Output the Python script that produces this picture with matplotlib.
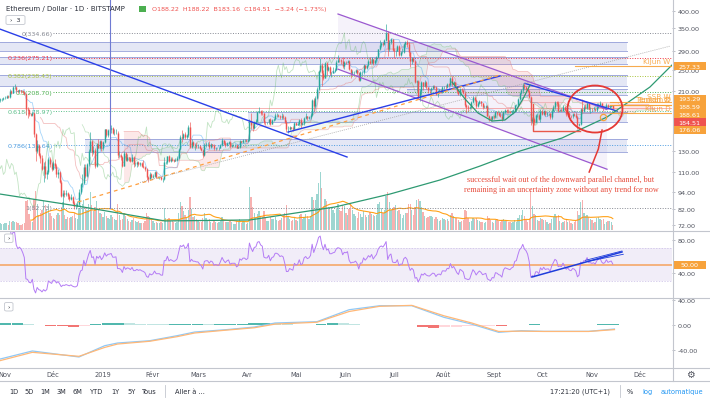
import matplotlib
matplotlib.use("Agg")
import matplotlib.pyplot as plt
import matplotlib.transforms as mtransforms
from matplotlib.lines import Line2D
from matplotlib.patches import Ellipse, FancyBboxPatch, Rectangle
from matplotlib.ticker import FixedLocator, FuncFormatter, NullLocator
import numpy as np
import pandas as pd

W, H = 710, 402

# daily candles, 2018-10-29 .. 2019-11-14 ; day 0 = 2018-11-01
FIRST_DAY = -3
FIRST_OPEN = 196
CLOSES = [
    197, 198, 199,
    200, 202, 201, 211, 208, 218, 218, 212, 210, 212, 211, 209, 206, 182, 181, 175, 174, 177, 149, 130,
    137, 126, 123, 113, 116, 108, 110, 122, 117, 113,
    118, 116, 108, 110, 102, 91, 93, 92, 93, 91, 89, 90, 86, 84, 84, 85, 94, 100, 101, 115,
    107, 117, 130, 141, 129, 131, 116, 138, 134, 141, 133,
    140, 155, 148, 154, 155, 157, 150, 150, 151, 126, 126, 124, 116, 128, 121, 124, 123, 120, 124, 117,
    117, 119, 117, 118, 116, 115, 113, 106, 104, 108, 106,
    107, 110, 106, 106, 106, 104, 104, 119, 119, 125, 120, 122, 121, 120, 121, 123, 132, 146, 145, 149,
    146, 148, 158, 135, 140, 137, 137, 136,
    136, 133, 131, 126, 137, 138, 138, 135, 138, 137, 133, 134, 133, 133, 137, 142, 139, 137, 139, 140,
    136, 137, 137, 137, 134, 135, 141, 140, 142, 142, 141,
    142, 164, 160, 157, 165, 166, 178, 180, 177, 176, 165, 164, 164, 168, 162, 167, 168, 174, 174, 173,
    171, 172, 171, 165, 155, 155, 158, 157, 156, 163,
    161, 162, 167, 162, 163, 170, 172, 170, 171, 174, 196, 187, 199, 215, 248, 259, 244, 234, 264, 250,
    256, 244, 244, 248, 250, 265, 271, 270, 268, 257, 266,
    265, 269, 251, 244, 246, 246, 249, 244, 231, 245, 245, 259, 254, 259, 267, 264, 272, 263, 270, 276,
    294, 305, 310, 308, 318, 336, 294, 312, 319, 293,
    291, 291, 302, 282, 287, 287, 307, 313, 307, 287, 268, 275, 268, 227, 229, 200, 210, 226, 220, 226,
    217, 213, 212, 216, 220, 218, 206, 211, 212, 209, 218,
    218, 217, 223, 222, 233, 223, 226, 219, 210, 205, 215, 212, 208, 188, 186, 184, 185, 193, 201, 196,
    187, 191, 194, 191, 185, 186, 187, 173, 170, 168, 172,
    171, 178, 177, 174, 173, 169, 178, 181, 180, 179, 178, 180, 181, 188, 189, 198, 208, 212, 222, 217,
    215, 211, 201, 166, 169, 165, 174, 174, 169, 180,
    175, 180, 175, 176, 176, 171, 180, 186, 193, 191, 180, 181, 180, 186, 181, 175, 177, 173, 172, 175,
    174, 171, 160, 162, 182, 180, 185, 184, 191, 183, 183,
    182, 183, 181, 186, 189, 191, 186, 184, 185, 189, 186, 187, 187.75, 184.51,
]
HIGHS = [
    199, 200, 201,
    203, 204, 204, 214, 212, 220, 223, 219, 213, 214, 213, 213, 210, 207, 185, 182, 177, 180, 178, 150,
    142, 138, 128, 126, 119, 120, 112, 124, 124, 119,
    120, 122, 117, 113, 111, 103, 95, 95, 95, 94, 92, 92, 91, 87, 86, 87, 96, 101, 108, 117,
    117, 118, 132, 152, 142, 136, 133, 139, 144, 142, 142,
    141, 156, 156, 156, 160, 160, 158, 156, 155, 153, 130, 127, 125, 130, 129, 127, 124, 124, 127, 125,
    119, 120, 120, 119, 119, 121, 116, 114, 107, 110, 109,
    108, 111, 111, 107, 107, 107, 105, 124, 120, 125, 126, 124, 124, 122, 123, 125, 134, 148, 154, 151,
    152, 149, 160, 165, 143, 141, 139, 140,
    138, 137, 134, 132, 139, 140, 140, 141, 139, 138, 138, 135, 134, 135, 138, 145, 142, 141, 140, 141,
    141, 138, 138, 138, 138, 136, 142, 141, 144, 143, 143,
    143, 168, 176, 163, 166, 169, 180, 185, 181, 181, 177, 166, 165, 169, 170, 168, 170, 176, 176, 175,
    174, 176, 175, 172, 167, 159, 159, 158, 159, 164,
    164, 164, 169, 170, 164, 171, 176, 173, 173, 177, 197, 200, 202, 218, 250, 275, 263, 250, 266, 265,
    258, 258, 246, 256, 254, 270, 282, 275, 272, 277, 268,
    268, 271, 271, 252, 250, 248, 252, 251, 246, 247, 247, 261, 260, 260, 270, 277, 276, 273, 271, 278,
    296, 318, 313, 312, 320, 361, 340, 316, 323, 320,
    297, 293, 304, 304, 291, 297, 309, 314, 316, 312, 288, 277, 277, 270, 230, 230, 215, 228, 227, 230,
    228, 218, 215, 217, 222, 221, 219, 213, 214, 214, 219,
    220, 221, 224, 224, 235, 238, 228, 227, 220, 212, 216, 216, 213, 209, 190, 188, 187, 195, 203, 201,
    197, 193, 196, 195, 192, 189, 188, 189, 174, 172, 173,
    174, 180, 180, 178, 176, 176, 180, 183, 182, 182, 180, 181, 182, 189, 190, 199, 209, 214, 224, 224,
    219, 216, 212, 202, 171, 170, 175, 176, 175, 182,
    183, 181, 181, 178, 177, 177, 182, 188, 194, 194, 194, 183, 184, 188, 187, 182, 179, 178, 174, 176,
    177, 176, 172, 163, 184, 197, 188, 190, 193, 192, 185,
    184, 185, 184, 192, 191, 194, 192, 187, 186, 191, 190, 188, 189, 188.22,
]
LOWS = [
    193, 195, 196,
    197, 199, 199, 200, 206, 207, 215, 209, 207, 209, 208, 207, 204, 174, 170, 173, 172, 173, 146, 120,
    128, 125, 118, 112, 102, 105, 104, 108, 115, 111,
    112, 114, 106, 105, 101, 90, 83, 90, 91, 89, 87, 88, 85, 82, 82, 83, 84, 92, 98, 100,
    105, 106, 116, 129, 125, 127, 114, 115, 133, 132, 130,
    131, 139, 146, 146, 153, 151, 149, 148, 149, 123, 124, 121, 115, 116, 120, 120, 120, 119, 119, 115,
    116, 115, 116, 116, 115, 114, 111, 103, 102, 104, 105,
    105, 106, 105, 105, 104, 103, 102, 103, 117, 117, 119, 119, 120, 119, 120, 120, 122, 131, 140, 143,
    144, 144, 146, 133, 133, 136, 131, 134,
    134, 132, 130, 124, 125, 135, 136, 132, 134, 135, 131, 131, 132, 131, 133, 136, 137, 135, 136, 138,
    134, 135, 136, 135, 133, 133, 134, 139, 139, 140, 140,
    140, 141, 156, 153, 156, 162, 165, 176, 174, 174, 162, 160, 162, 162, 160, 162, 166, 167, 171, 171,
    168, 169, 169, 163, 152, 151, 154, 155, 153, 155,
    160, 160, 161, 157, 160, 161, 168, 167, 169, 169, 173, 180, 184, 197, 213, 245, 220, 231, 233, 240,
    248, 240, 236, 243, 246, 249, 265, 265, 262, 253, 252,
    261, 264, 249, 234, 240, 239, 244, 242, 229, 229, 240, 241, 251, 252, 257, 261, 263, 260, 262, 266,
    275, 292, 300, 303, 305, 315, 280, 290, 308, 290,
    275, 280, 290, 280, 280, 285, 286, 301, 300, 280, 256, 262, 265, 225, 211, 198, 195, 206, 213, 218,
    214, 207, 208, 205, 214, 214, 204, 201, 208, 207, 208,
    214, 215, 216, 218, 221, 220, 219, 217, 208, 204, 203, 209, 206, 185, 177, 180, 182, 184, 192, 194,
    184, 185, 190, 187, 183, 184, 184, 172, 166, 166, 167,
    169, 170, 174, 172, 171, 166, 168, 177, 176, 177, 176, 177, 178, 180, 187, 187, 196, 205, 207, 215,
    213, 209, 200, 160, 163, 160, 163, 171, 167, 165,
    174, 174, 172, 173, 174, 168, 169, 179, 182, 187, 178, 179, 179, 179, 179, 173, 174, 170, 170, 170,
    172, 170, 155, 159, 160, 176, 178, 182, 183, 181, 177,
    179, 181, 180, 180, 184, 187, 184, 179, 183, 183, 183, 184, 185, 183.16,
]
VOLUMES = [  # thousand ETH
    70, 60, 65,
    70, 75, 55, 90, 80, 95, 85, 80, 70, 50, 55, 65, 70, 290, 300, 160, 90, 80, 310, 390,
    260, 150, 170, 200, 290, 250, 210, 260, 170, 140,
    120, 110, 150, 170, 150, 230, 280, 150, 110, 130, 120, 130, 140, 170, 120, 110, 220, 250, 260, 300,
    220, 200, 260, 380, 250, 190, 230, 290, 210, 170, 160,
    130, 180, 140, 120, 110, 150, 130, 110, 100, 260, 150, 100, 110, 170, 140, 110, 90, 80, 100, 120,
    90, 80, 90, 70, 70, 70, 90, 170, 140, 130, 100,
    90, 70, 80, 70, 70, 80, 70, 220, 120, 110, 120, 90, 90, 80, 70, 80, 170, 280, 240, 190,
    150, 120, 200, 330, 210, 130, 140, 110,
    90, 80, 80, 120, 170, 120, 100, 110, 80, 70, 90, 80, 70, 80, 90, 130, 90, 80, 80, 80,
    100, 80, 60, 60, 90, 80, 110, 70, 90, 80, 60,
    70, 430, 330, 230, 170, 120, 160, 190, 140, 130, 190, 130, 90, 90, 130, 110, 110, 130, 100, 90,
    100, 120, 150, 170, 250, 140, 110, 90, 100, 120,
    100, 90, 150, 160, 110, 130, 160, 140, 110, 140, 330, 300, 300, 360, 470, 580, 420, 240, 310, 290,
    230, 220, 220, 200, 170, 210, 260, 200, 190, 250, 240,
    170, 150, 210, 260, 200, 160, 140, 120, 180, 160, 130, 190, 150, 130, 150, 180, 160, 150, 140, 150,
    260, 280, 220, 170, 200, 340, 380, 280, 200, 210,
    230, 250, 190, 200, 160, 120, 150, 170, 170, 260, 260, 200, 150, 230, 300, 310, 290, 230, 180, 140,
    120, 130, 140, 140, 130, 110, 130, 110, 90, 100, 120,
    110, 100, 110, 90, 150, 170, 140, 120, 120, 100, 80, 90, 100, 200, 190, 120, 80, 90, 120, 110,
    120, 100, 90, 80, 80, 70, 80, 140, 120, 100, 80,
    70, 100, 110, 90, 80, 100, 110, 90, 90, 80, 80, 70, 80, 100, 80, 120, 150, 150, 200, 140,
    100, 80, 110, 410, 240, 160, 150, 100, 90, 120,
    110, 100, 100, 80, 60, 70, 110, 130, 160, 140, 150, 90, 70, 80, 90, 110, 80, 90, 70, 60,
    80, 90, 190, 150, 280, 300, 170, 140, 150, 130, 110,
    100, 70, 80, 120, 130, 110, 100, 110, 60, 80, 90, 90, 80, 50,
]

MONTH_DAYS = [0, 30, 61, 92, 120, 151, 181, 212, 242, 273, 304, 334, 365, 395]
MONTH_LABELS = ["Nov", "Déc", "2019", "Févr", "Mars", "Avr", "Mai", "Juin", "Juil", "Août", "Sept", "Oct", "Nov", "Déc"]
PRICE_TICKS = [72, 82, 94, 110, 130, 210, 250, 290, 350, 400]

FIB_RATIOS = ["0", "0.236", "0.382", "0.5", "0.618", "0.786", "1"]
FIB_LEVELS = [334.66, 275.21, 238.43, 208.70, 178.97, 136.64, 82.73]
FIB_COLORS = ["#868993", "#f23645", "#a8c23a", "#4caf50", "#5cbf8a", "#4b9be0", "#868993"]
FIB_START = 30

# (start day, end day, low, high)
ZONES = [
    (-3.1, 387, 291.0, 311.3),
    (-3.1, 387, 262.6, 275.8),
    (-3.1, 387, 220.2, 239.6),
    (250, 387, 204.1, 214.1),
    (151, 387, 164.4, 178.1),
    (50, 387, 129.2, 142.9),
]

BLUE_LINES = [
    [(-3.1, 346.0), (212.7, 124.2)],
    [(176.0, 151.7), (307.8, 237.6)],
    [(323.4, 223.9), (380.6, 179.5)],
]
CHANNEL_UPPER = [(207.1, 390.5), (374.4, 181.7)]
CHANNEL_LOWER = [(207.1, 251.0), (374.4, 112.6)]
ORANGE_DASHED = [(45.4, 86.6), (307.8, 239.6)]
GRAY_DOTTED = [(84.0, 101.3), (413.6, 302.0)]
ARC_DAYS = [-3.1, 44.8, 99.5, 152.4, 205.2, 239.4, 270.5, 295.4, 320.3, 346.4, 374.4, 401.1, 414.8]
ARC_PRICES = [92.3, 83.9, 74.4, 75.0, 83.2, 92.3, 103.3, 115.5, 130.3, 144.6, 171.1, 217.6, 259.5]
CUP_DAYS = [278.0, 286.1, 294.2, 302.9, 310.9, 317.2, 322.1, 326.5]
CUP_PRICES = [226.4, 197.6, 176.6, 165.7, 167.0, 178.1, 197.6, 221.1]
RED_PATH_DAYS = [328.4, 328.4, 357.6]
RED_PATH_PRICES = [190.0, 153.0, 153.0]
CIRCLE_CENTER = (366.9, 182.4)
POINTER_DAYS = [371.3, 369.0, 363.3]
POINTER_PRICES = [154.1, 132.4, 110.1]
MARK_POINT = (371.9, 171.1)
VLINE_DAY = 65.3
NOTE = ("successful wait out of the downward parallel channel, but\n"
        "remaining in an uncertainty zone without any trend for now")
NOTE_POS = (345.8, 100.0)

IND_LABELS = ["Kijun W", "SSB W", "Tenkan W", "Tenkan D", "Kijun D"]
IND_LEVELS = [257.33, 193.29, 188.59, 188.61, 176.06]
IND_START = [354.5, 376, 376, 376, 376]
LAST_PRICE = 184.51

RSI_TRENDS = [[(327.7, 35.2), (383.7, 65.5)], [(361.0, 55.4), (383.7, 66.7)], [(362.6, 54.2), (384.5, 62.7)]]

MACD_DAYS = [-3, 17, 46, 62, 70, 90, 107, 118, 137, 155, 168, 194, 214, 233, 253, 273, 290, 307, 321, 335, 363, 379]
MACD_LINE = [-55.4, -42.3, -52.1, -33.7, -29.3, -25.6, -17.4, -11.4, -7.7, -3.3, 3.3, 5.4, 24.9, 31.4,
             31.4, 12.5, 1.6, -11.9, -9.3, -10.3, -10.3, -6.5]
MACD_SIGNAL = [-58.0, -44.5, -51.0, -36.5, -31.0, -26.5, -19.0, -13.0, -8.5, -4.5, 1.5, 4.5, 22.0, 30.5,
               32.0, 15.0, 3.5, -10.5, -10.0, -10.5, -10.5, -7.5]
MACD_HIST = [2.5, 3, 2, 0.5, -1, -2, -2.5, -1.5, 1.5, 3, 4, 3, 2, 1.5, 1, 1, 1, 1.5, 1, 1.5,
             1.5, 1.5, 2.5, 3, 2.5, 1.5, 0.5, 0.3, 2, 3, 2.5, 1.5, 0.5, 0.3, 0.3, 0, 0, -4, -5, -3,
             -2.5, -2, -1.5, -1, -1, -0.5, 0.5, 1, -0.5, 0, 0, 0, 0.5, 1, 1]

UP, DOWN = "#26a69a", "#ef5350"
ORANGE = "#f7a23b"
XLIM = (-3.11, 414.8)

closes = np.array(CLOSES, float)
highs = np.array(HIGHS, float)
lows = np.array(LOWS, float)
opens = np.r_[FIRST_OPEN, closes[:-1]]
days = np.arange(len(closes)) + FIRST_DAY
cols = np.where(closes >= opens, UP, DOWN)

fig = plt.figure(figsize=(W / 100, H / 100), dpi=100)
fig.patch.set_facecolor("white")


def rect(top, bottom, left=0, right=672):
    return [left / W, 1 - bottom / H, (right - left) / W, (bottom - top) / H]


def style(a, fmt):
    for s in a.spines.values():
        s.set_visible(False)
    a.set_xlim(*XLIM)
    a.xaxis.set_major_locator(NullLocator())
    a.yaxis.tick_right()
    a.yaxis.set_minor_locator(NullLocator())
    a.yaxis.set_major_formatter(FuncFormatter(fmt))
    a.tick_params(axis="y", which="both", length=2.5, width=0.6, color="#b2b5be",
                  labelsize=4.6, labelcolor="#50535e", pad=1.5)


ax_vol = fig.add_axes(rect(0, 231))
ax = fig.add_axes(rect(0, 231))
ax_rsi = fig.add_axes(rect(232, 298))
ax_macd = fig.add_axes(rect(299, 368))
ax.patch.set_visible(False)

# volume
ax_vol.bar(days, VOLUMES, width=0.8, color=cols, alpha=0.45, lw=0)
ax_vol.plot(days, pd.Series(VOLUMES).rolling(20).mean(), color="#ff9800", lw=0.8, alpha=0.9)
ax_vol.set_xlim(*XLIM)
ax_vol.set_ylim(0, 2310)
ax_vol.axis("off")

# main pane
style(ax, lambda v, _: f"{v:.2f}")
ax.set_yscale("log")
ax.set_ylim(69.2, 440.4)
ax.yaxis.set_major_locator(FixedLocator(PRICE_TICKS))
ax.yaxis.set_minor_locator(NullLocator())
ax.yaxis.set_major_formatter(FuncFormatter(lambda v, _: f"{v:.2f}"))

for d0, d1, lo, hi in ZONES:
    ax.add_patch(Rectangle((d0, lo), d1 - d0, hi - lo, fc="#c5cae9", alpha=0.45, ec="none", zorder=1))
    ax.plot([d0, d1], [lo, lo], color="#8e99d6", lw=0.7, alpha=0.8, zorder=1.2)
    ax.plot([d0, d1], [hi, hi], color="#8e99d6", lw=0.7, alpha=0.8, zorder=1.2)

for name, level, c in zip(FIB_RATIOS, FIB_LEVELS, FIB_COLORS):
    ax.plot([FIB_START, XLIM[1]], [level, level], color=c, lw=0.7, ls=(0, (1, 1.6)), zorder=1.5)
    ax.annotate(f"{name}({level:.2f})", xy=(FIB_START, level), xytext=(-0.5, 0),
                textcoords="offset points", ha="right", va="center", fontsize=4.6, color=c, zorder=1.5)

ax.axhline(LAST_PRICE, color=DOWN, lw=0.7, alpha=0.45, zorder=1.6)

# ichimoku
hs, ls, cs = pd.Series(highs), pd.Series(lows), pd.Series(closes)
tenkan = (hs.rolling(9).max() + ls.rolling(9).min()) / 2
kijun = (hs.rolling(26).max() + ls.rolling(26).min()) / 2
span_a = ((tenkan + kijun) / 2).to_numpy()
span_b = ((hs.rolling(52).max() + ls.rolling(52).min()) / 2).to_numpy()
lead = days + 26
ax.plot(days, tenkan, color="#2196f3", lw=0.6, alpha=0.4, zorder=2)
ax.plot(days, kijun, color="#e57373", lw=0.6, alpha=0.45, zorder=2)
ax.plot(days - 26, closes, color="#66bb6a", lw=0.6, alpha=0.4, zorder=2)
ax.plot(lead, span_a, color="#81c784", lw=0.5, alpha=0.5, zorder=2)
ax.plot(lead, span_b, color="#e57373", lw=0.5, alpha=0.45, zorder=2)
ok = ~np.isnan(span_a) & ~np.isnan(span_b)
ax.fill_between(lead, span_a, span_b, where=ok & (span_a >= span_b), color="#4caf50", alpha=0.08,
                interpolate=True, lw=0, zorder=1.8)
ax.fill_between(lead, span_a, span_b, where=ok & (span_a < span_b), color="#ef5350", alpha=0.13,
                interpolate=True, lw=0, zorder=1.8)

# channel
(u0, u1), (l0, l1) = CHANNEL_UPPER, CHANNEL_LOWER
ax.fill([u0[0], u1[0], l1[0], l0[0]], [u0[1], u1[1], l1[1], l0[1]], color="#9575cd", alpha=0.09, lw=0, zorder=1)

# candles
ax.vlines(days, lows, highs, colors=cols, lw=0.45, zorder=4)
ax.vlines(days, np.minimum(opens, closes), np.maximum(opens, closes), colors=cols, lw=1.05, zorder=5)

# drawings
for seg in (CHANNEL_UPPER, CHANNEL_LOWER):
    ax.plot(*zip(*seg), color="#9b59d0", lw=0.9, zorder=6)
for seg in BLUE_LINES:
    ax.plot(*zip(*seg), color="#2a3fe8", lw=1.0, zorder=6)
ax.plot(*zip(*ORANGE_DASHED), color="#ffa040", lw=0.9, ls=(0, (3, 3)), zorder=6)
ax.plot(*zip(*GRAY_DOTTED), color="#a0a0a0", lw=0.6, ls=(0, (1, 1.5)), zorder=6)
ax.plot(ARC_DAYS, ARC_PRICES, color="#2e9a72", lw=0.9, zorder=6)
ax.plot(CUP_DAYS, CUP_PRICES, color="#2e9a72", lw=0.9, zorder=6)
ax.plot(RED_PATH_DAYS, RED_PATH_PRICES, color="#e8584a", lw=1.0, zorder=6)
ax.plot([VLINE_DAY, VLINE_DAY], [FIB_LEVELS[-1], 440], color="#6f7bd3", lw=0.8, zorder=6)

for name, level, start in zip(IND_LABELS, IND_LEVELS, IND_START):
    ax.plot([start, XLIM[1]], [level, level], color=ORANGE, lw=0.8, alpha=0.9, zorder=6)
    ax.annotate(name, xy=(XLIM[1], level), xytext=(-1, 4), textcoords="offset points", ha="right",
                va="center", fontsize=5.2, color=ORANGE, alpha=0.9, zorder=7, annotation_clip=False)

tr = fig.dpi_scale_trans + mtransforms.ScaledTranslation(*CIRCLE_CENTER, ax.transData)
ax.add_patch(Ellipse((0, 0), 0.55, 0.47, transform=tr, fill=False, ec="#e53935", lw=1.3, zorder=7))
ax.plot(POINTER_DAYS, POINTER_PRICES, color="#e53935", lw=1.1, zorder=7)
ax.plot(*MARK_POINT, "o", mfc="none", mec=ORANGE, ms=4.5, mew=0.9, zorder=7)
ax.text(*NOTE_POS, NOTE, ha="center", va="center", fontsize=5.9, color="#e74c3c",
        family="Liberation Serif", linespacing=1.3, zorder=7)

# RSI pane
style(ax_rsi, lambda v, _: f"{v:.2f}")
delta = cs.diff()
gain = delta.clip(lower=0).ewm(alpha=1 / 14, adjust=False).mean()
loss = (-delta.clip(upper=0)).ewm(alpha=1 / 14, adjust=False).mean()
rsi = 100 - 100 / (1 + gain / loss)
ax_rsi.set_ylim(11.0, 90.9)
ax_rsi.axhspan(30, 70, color="#7e57c2", alpha=0.1, lw=0)
for lvl in (30, 70):
    ax_rsi.axhline(lvl, color="#c9bde6", lw=0.5, ls=(0, (2, 2)))
ax_rsi.axhline(50, color="#f5a05a", lw=1.2, alpha=0.9)
ax_rsi.plot(days, rsi, color="#b47cf5", lw=0.7)
for i, seg in enumerate(RSI_TRENDS):
    ax_rsi.plot(*zip(*seg), color="#1e3ddb", lw=1.1 if i == 0 else 0.6)
ax_rsi.yaxis.set_major_locator(FixedLocator([40, 80]))

# MACD pane
style(ax_macd, lambda v, _: f"{v:.2f}")
ax_macd.set_ylim(-68.4, 44.0)
hist = np.array(MACD_HIST, float)
hist_days = FIRST_DAY + 3.5 + 7 * np.arange(len(hist))
prev = np.r_[hist[0], hist[:-1]]
hcols = np.where(hist >= 0, np.where(hist >= prev, "#26a69a", "#b2dfdb"),
                 np.where(hist <= prev, "#ef5350", "#ffcdd2"))
ax_macd.bar(hist_days, hist, width=6.8, color=hcols, lw=0, alpha=0.8)
ax_macd.plot(MACD_DAYS, MACD_LINE, color="#90c8f5", lw=0.9)
ax_macd.plot(MACD_DAYS, MACD_SIGNAL, color="#ffb878", lw=0.9)
ax_macd.yaxis.set_major_locator(FixedLocator([-40, 0, 40]))
ax_macd.xaxis.set_major_locator(FixedLocator(MONTH_DAYS))
ax_macd.set_xticklabels(MONTH_LABELS)
ax_macd.tick_params(axis="x", length=0, pad=3.2, labelsize=4.8, labelcolor="#50535e")

# pane separators
for y in (231.5, 298.5, 368.5, 381.5):
    fig.add_artist(Line2D([0, 1], [1 - y / H] * 2, color="#c3c6ce", lw=0.8))
fig.add_artist(Line2D([672.5 / W] * 2, [1 - 381.5 / H, 1], color="#c3c6ce", lw=0.8))


def ypix(a, value):
    return H - a.transData.transform((0, value))[1]


def tag(y, text, color):
    fig.add_artist(Rectangle((673 / W, 1 - (y + 4) / H), 33 / W, 8 / H, transform=fig.transFigure,
                             fc=color, ec="none"))
    fig.text(689.5 / W, 1 - y / H, text, color="white", fontsize=4.6, ha="center", va="center")


tag(ypix(ax, IND_LEVELS[0]), f"{IND_LEVELS[0]:.2f}", ORANGE)
stack = [(IND_LEVELS[1], ORANGE), (IND_LEVELS[2], ORANGE), (IND_LEVELS[3], ORANGE),
         (LAST_PRICE, DOWN), (IND_LEVELS[4], ORANGE)]
y0 = ypix(ax, stack[0][0]) - 2.8
for i, (val, c) in enumerate(stack):
    tag(y0 + 7.7 * i, f"{val:.2f}", c)
tag(ypix(ax_rsi, 50), "50.00", ORANGE)

# header
fig.text(6 / W, 1 - 9.5 / H, "Ethereum / Dollar · 1D · BITSTAMP", fontsize=5.0, color="#2a2e39", va="center")
fig.add_artist(Rectangle((139 / W, 1 - 12.5 / H), 6.5 / W, 6 / H, transform=fig.transFigure, fc="#4caf50", ec="none"))
fig.text(152 / W, 1 - 9.5 / H, "O188.22  H188.22  B183.16  C184.51  −3.24 (−1.73%)", fontsize=4.6,
         color="#ef5350", va="center")
for x0, y0b, w, h, label in [(6, 16.5, 19, 9, "›  3"), (4.5, 235, 8.5, 8.5, "›"), (4.5, 303.5, 8.5, 8.5, "›")]:
    fig.add_artist(FancyBboxPatch((x0 / W, 1 - (y0b + h) / H), w / W, h / H, transform=fig.transFigure,
                                  boxstyle="round,pad=0,rounding_size=0.003", fc="white", ec="#c3c6ce", lw=0.6))
    fig.text((x0 + w / 2) / W, 1 - (y0b + h / 2) / H, label, fontsize=4.6, color="#2a2e39", ha="center", va="center")

# bottom toolbar
for label, x in zip(["1D", "5D", "1M", "3M", "6M", "YTD", "1Y", "5Y", "Tous", "Aller à ..."],
                    [13.5, 29, 45.5, 61.5, 77, 97, 115.5, 131.5, 149, 190]):
    fig.text(x / W, 1 - 392 / H, label, fontsize=4.8, color="#2a2e39", ha="center", va="center")
fig.text(580 / W, 1 - 392 / H, "17:21:20 (UTC+1)", fontsize=4.8, color="#2a2e39", ha="center", va="center")
fig.text(630 / W, 1 - 392 / H, "%", fontsize=4.8, color="#2a2e39", ha="center", va="center")
fig.text(647.5 / W, 1 - 392 / H, "log", fontsize=4.8, color="#2196f3", ha="center", va="center")
fig.text(681.5 / W, 1 - 392 / H, "automatique", fontsize=4.8, color="#2196f3", ha="center", va="center")
for x in (165, 620):
    fig.add_artist(Line2D([x / W] * 2, [1 - 386 / H, 1 - 398 / H], color="#c3c6ce", lw=0.6))
fig.text(690 / W, 1 - 375 / H, "⚙", fontsize=7, color="#50535e", ha="center", va="center")

fig.savefig("out.png", dpi=100, facecolor="white")
